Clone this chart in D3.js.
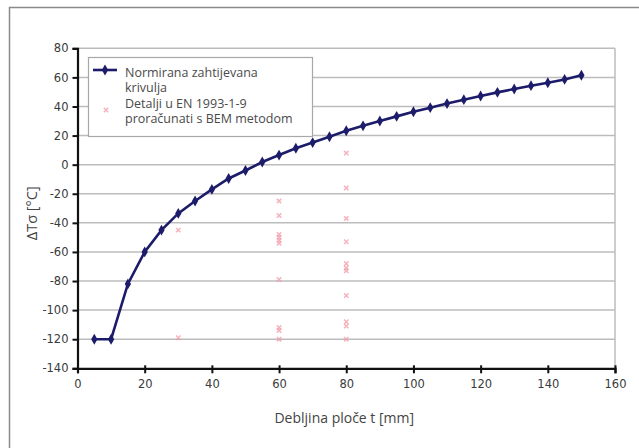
<!DOCTYPE html>
<html><head><meta charset="utf-8">
<script src="https://cdn.jsdelivr.net/npm/d3@7"></script>
<style>html,body{margin:0;padding:0;background:#fff;}svg{display:block;}</style>
</head><body>
<script>
const curveT = [5,10,15,20,25,30,35,40,45,50,55,60,65,70,75,80,85,90,95,100,105,110,115,120,125,130,135,140,145,150];
const curveV = [-120,-120,-82,-60,-45,-33.5,-25,-17,-9.5,-4,1.8,6.6,11.3,15.2,19.2,23.3,26.7,30,33.2,36.4,39.2,42,44.7,47.2,49.7,52,54.3,56.3,58.6,61.5];
const scatterT = [30,30, 60,60,60,60,60,60,60,60,60,60, 80,80,80,80,80,80,80,80,80,80,80];
const scatterV = [-45,-119, -25,-35,-48,-50,-52,-54,-79,-112,-114,-120, 8,-16,-37,-53,-68,-71,-73,-90,-108,-111,-120];
const xTicks = [0,20,40,60,80,100,120,140,160];
const yTicks = [80,60,40,20,0,-20,-40,-60,-80,-100,-120,-140];
const seriesNames = ["Normirana zahtijevana", "krivulja", "Detalji u EN 1993-1-9", "proračunati s BEM metodom"];
const xTitle = "Debljina ploče t [mm]";
const yTitle = "ΔTσ [°C]";

const W = 639, H = 448;
const svg = d3.select("body").append("svg").attr("width", W).attr("height", H);
// outer frame (top & left visible)
svg.append("rect").attr("x", 9.5).attr("y", 7.5).attr("width", 700).attr("height", 600)
  .attr("fill", "none").attr("stroke", "#8a8a8a").attr("stroke-width", 1.5);

const L = 77.5, R = 615, T = 48.3, B = 368.3;
const x = d3.scaleLinear().domain([0,160]).range([L,R]);
const y = d3.scaleLinear().domain([-140,80]).range([B,T]);

// gridlines
svg.append("g").selectAll("line").data(yTicks.filter(d=>d>-140)).join("line")
  .attr("x1", L).attr("x2", R).attr("y1", d=>y(d)).attr("y2", d=>y(d))
  .attr("stroke", "#bcbcbc").attr("stroke-width", 1.5);
// right border
svg.append("line").attr("x1", R).attr("x2", R).attr("y1", T).attr("y2", B)
  .attr("stroke", "#bcbcbc").attr("stroke-width", 1.5);

// axes
const fontTick = "'DejaVu Sans', sans-serif";
const fmt = d => String(d);
const yAxis = svg.append("g").attr("transform", `translate(${L},0)`)
  .call(d3.axisLeft(y).tickValues(yTicks).tickFormat(fmt).tickSize(5).tickPadding(4));
const xAxis = svg.append("g").attr("transform", `translate(0,${B})`)
  .call(d3.axisBottom(x).tickValues(xTicks).tickFormat(fmt).tickSize(5).tickPadding(7));
[yAxis, xAxis].forEach(g => {
  g.select(".domain").attr("stroke", "#111").attr("stroke-width", 2.2);
  g.selectAll(".tick line").attr("stroke", "#111").attr("stroke-width", 2);
  g.selectAll(".tick text").attr("fill", "#3a3a3a").style("font-family", fontTick).style("font-size", "11.5px");
});
xAxis.selectAll(".tick line").attr("y1", -3);

// titles
svg.append("text").attr("x", (L+R)/2 - 2).attr("y", 423).attr("text-anchor", "middle")
  .style("font-family", "'Open Sans', sans-serif").style("font-size", "14px").attr("fill", "#444").text(xTitle);
svg.append("text").attr("transform", `translate(37,${(T+B)/2+5}) rotate(-90)`).attr("text-anchor", "middle")
  .style("font-family", "'Open Sans', sans-serif").style("font-size", "14.5px").attr("fill", "#444").text(yTitle);

// scatter
const pink = "#f29aa8";
const sc = d3.range(scatterT.length).map(i => ({t: scatterT[i], v: scatterV[i]}));
svg.append("g").selectAll("path").data(sc).join("path")
  .attr("transform", d => `translate(${x(d.t)},${y(d.v)})`)
  .attr("d", d3.symbol(d3.symbolX, 14))
  .attr("stroke", pink).attr("stroke-width", 1.5).attr("fill", "none").attr("opacity", 0.75);

// curve
const navy = "#1c1c6b";
const cd = d3.range(curveT.length).map(i => ({t: curveT[i], v: curveV[i]}));
svg.append("path").datum(cd)
  .attr("d", d3.line().x(d=>x(d.t)).y(d=>y(d.v)))
  .attr("fill", "none").attr("stroke", navy).attr("stroke-width", 2.6);
svg.append("g").selectAll("path").data(cd).join("path")
  .attr("transform", d => `translate(${x(d.t)},${y(d.v)})`)
  .attr("d", d3.symbol(d3.symbolDiamond, 34))
  .attr("fill", navy);

// legend
const lg = svg.append("g");
lg.append("rect").attr("x", 88.5).attr("y", 57.5).attr("width", 224).attr("height", 79)
  .attr("fill", "#fff").attr("stroke", "#a8a8a8").attr("stroke-width", 1.2);
lg.append("line").attr("x1", 93).attr("x2", 117).attr("y1", 70).attr("y2", 70)
  .attr("stroke", navy).attr("stroke-width", 2.6);
lg.append("path").attr("transform", "translate(105,70)").attr("d", d3.symbol(d3.symbolDiamond, 34)).attr("fill", navy);
lg.append("path").attr("transform", "translate(106,110)").attr("d", d3.symbol(d3.symbolX, 14))
  .attr("stroke", pink).attr("stroke-width", 1.5).attr("fill", "none").attr("opacity", 0.75);
const ly = [72, 87.5, 103, 118.5];
lg.selectAll("text").data(seriesNames).join("text")
  .attr("x", 125).attr("y", (d,i)=>ly[i]+4.5)
  .style("font-family", "'Open Sans', sans-serif").style("font-size", "12.5px").attr("fill", "#4a4a4a")
  .text(d=>d);
</script>
</body></html>
